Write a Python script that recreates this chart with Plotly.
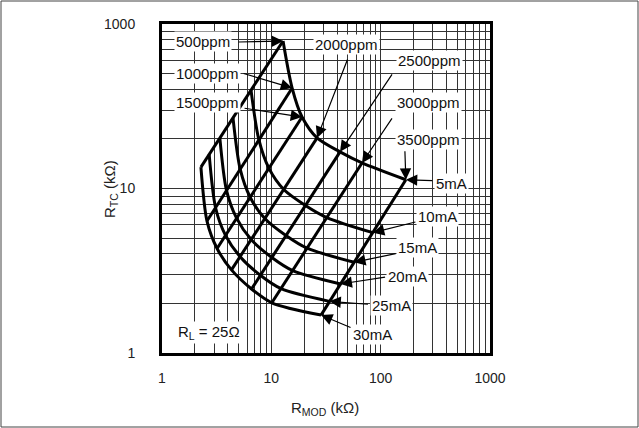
import numpy as np
import plotly.graph_objects as go

# ---------------- data ----------------
ppm_labels = ["500ppm", "1000ppm", "1500ppm", "2000ppm", "2500ppm", "3000ppm", "3500ppm"]
current_labels = ["5mA", "10mA", "15mA", "20mA", "25mA", "30mA"]

# R_MOD (kOhm) and R_TC (kOhm) for each modulation current, one value per tempco
rmod_5mA = [12.8, 15.5, 19.1, 26.2, 42.5, 67.5, 170.0]
rtc_5mA = [78.8, 40.8, 27.2, 20.3, 16.7, 14.3, 11.3]
rmod_10mA = [6.52, 7.69, 9.49, 13.0, 20.5, 32.2, 84.9]
rtc_10mA = [39.6, 19.8, 13.3, 9.86, 7.89, 6.66, 5.39]
rmod_15mA = [4.46, 5.19, 6.40, 8.72, 13.6, 21.2, 57.2]
rtc_15mA = [26.9, 13.1, 8.85, 6.57, 5.18, 4.34, 3.56]
rmod_20mA = [3.38, 3.89, 4.81, 6.54, 10.1, 15.7, 43.0]
rtc_20mA = [20.3, 9.74, 6.60, 4.89, 3.81, 3.17, 2.63]
rmod_25mA = [2.70, 3.09, 3.81, 5.18, 7.94, 12.3, 34.0]
rtc_25mA = [16.1, 7.64, 5.19, 3.85, 2.97, 2.46, 2.06]
rmod_30mA = [2.27, 2.58, 3.19, 4.32, 6.59, 10.1, 28.5]
rtc_30mA = [13.5, 6.34, 4.32, 3.20, 2.45, 2.02, 1.70]

x_tickvals = [1, 10, 100, 1000]
x_ticktext = ["1", "10", "100", "1000"]
y_tickvals = [1, 10, 100]
y_ticktext = ["1", "10", "1000"]

rmod_rows = [rmod_5mA, rmod_10mA, rmod_15mA, rmod_20mA, rmod_25mA, rmod_30mA]
rtc_rows = [rtc_5mA, rtc_10mA, rtc_15mA, rtc_20mA, rtc_25mA, rtc_30mA]

# ---------------- layout geometry ----------------
W, H = 639, 428
ML, MR, MT, MB = 162, 149, 24, 75
PW, PH = W - ML - MR, H - MT - MB

FONT = "Liberation Sans, Arial, Helvetica, sans-serif"


def px2paper(px, py):
    return (px - ML) / PW, (H - MB - py) / PH


fig = go.Figure()

# constant-current curves
for xs, ys, name in zip(rmod_rows, rtc_rows, current_labels):
    fig.add_trace(go.Scatter(x=xs, y=ys, mode="lines", name=name,
                             line=dict(color="black", width=3, shape="spline", smoothing=0.8),
                             showlegend=False, hoverinfo="skip"))

# constant-tempco lines
for j, name in enumerate(ppm_labels):
    fig.add_trace(go.Scatter(x=[r[j] for r in rmod_rows], y=[r[j] for r in rtc_rows],
                             mode="lines", name=name,
                             line=dict(color="black", width=3),
                             showlegend=False, hoverinfo="skip"))

annotations = []

# text labels (white boxes hide grid behind them)
label_pos = {
    "500ppm": (203, 42), "1000ppm": (207, 73), "1500ppm": (207, 103),
    "2000ppm": (346, 45), "2500ppm": (429, 61), "3000ppm": (428, 103),
    "3500ppm": (428, 139),
    "5mA": (451, 183), "10mA": (437, 217), "15mA": (417, 247),
    "20mA": (407, 276), "25mA": (391, 305), "30mA": (372, 334),
}
for txt, (px, py) in label_pos.items():
    xp, yp = px2paper(px, py)
    annotations.append(dict(x=xp, y=yp, xref="paper", yref="paper", text=txt,
                            xanchor="center", yanchor="middle",
                            showarrow=False, bgcolor="white", borderpad=1,
                            font=dict(family=FONT, size=15, color="#111")))

xp, yp = px2paper(209, 332)
annotations.append(dict(x=xp, y=yp, xref="paper", yref="paper",
                        xanchor="center", yanchor="middle",
                        text="R<sub>L</sub> = 25Ω", showarrow=False, bgcolor="white",
                        font=dict(family=FONT, size=15, color="#111")))

# arrows: (x data, y data, tail offset px)
arrow_specs = [
    (rmod_5mA[0], rtc_5mA[0], -46, 1),
    (rmod_5mA[1], rtc_5mA[1], -50, -15),
    (rmod_5mA[2], rtc_5mA[2], -59, -9),
    (rmod_5mA[3], rtc_5mA[3], 31, -80),
    (rmod_5mA[4], rtc_5mA[4], 53, -79),
    (rmod_5mA[5], rtc_5mA[5], 31, -46),
    (rmod_5mA[6], rtc_5mA[6], -1, -30),
    (rmod_5mA[6], rtc_5mA[6], 28, 1),
    (rmod_10mA[6], rtc_10mA[6], 44, -11),
    (rmod_15mA[6], rtc_15mA[6], 43, -9),
    (rmod_20mA[6], rtc_20mA[6], 46, -7),
    (rmod_25mA[6], rtc_25mA[6], 40, 3),
    (rmod_30mA[6], rtc_30mA[6], 31, 13),
]
for xv, yv, ax, ay in arrow_specs:
    annotations.append(dict(x=np.log10(xv), y=np.log10(yv), xref="x", yref="y",
                            ax=ax, ay=ay, text="", showarrow=True,
                            arrowhead=2, arrowsize=1.9, arrowwidth=1.2,
                            arrowcolor="black"))

# axis titles
xp, yp = px2paper(325, 408)
annotations.append(dict(x=xp, y=yp, xref="paper", yref="paper",
                        xanchor="center", yanchor="middle",
                        text="R<sub>MOD</sub> (kΩ)", showarrow=False,
                        font=dict(family=FONT, size=15, color="#222")))
xp, yp = px2paper(110, 189)
annotations.append(dict(x=xp, y=yp, xref="paper", yref="paper", textangle=-90,
                        xanchor="center", yanchor="middle",
                        text="R<sub>TC</sub> (kΩ)", showarrow=False,
                        font=dict(family=FONT, size=15, color="#222")))

axis_common = dict(type="log", showline=True, linecolor="black", linewidth=3,
                   mirror=True, showgrid=True, gridcolor="#333", gridwidth=1,
                   ticks="", zeroline=False,
                   tickfont=dict(family=FONT, size=14, color="#222"),
                   minor=dict(dtick="D1", showgrid=True, gridcolor="#333",
                              gridwidth=1, ticks=""))

fig.update_layout(
    width=W, height=H,
    margin=dict(l=ML, r=MR, t=MT, b=MB, autoexpand=False),
    paper_bgcolor="white", plot_bgcolor="white",
    xaxis=dict(range=[0, 3], tickvals=x_tickvals, ticktext=x_ticktext,
               ticklabelstandoff=10, **axis_common),
    yaxis=dict(range=[0, 2], tickvals=y_tickvals, ticktext=y_ticktext,
               ticklabelstandoff=21, **axis_common),
    annotations=annotations,
    shapes=[dict(type="rect", xref="paper", yref="paper",
                 x0=(-ML + 1) / PW, x1=(PW + MR - 1) / PW,
                 y0=(-MB + 1) / PH, y1=(PH + MT - 1) / PH,
                 line=dict(color="#444", width=1), layer="below")],
)

fig.write_html("out.html", config={"displayModeBar": False},
               post_script="document.body.style.margin='0';document.body.style.overflow='hidden';")
